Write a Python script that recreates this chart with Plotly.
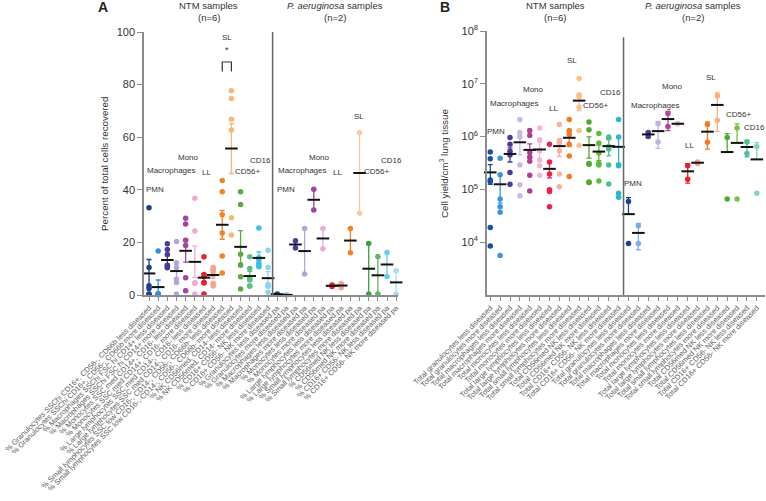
import plotly.graph_objects as go

W, H = 766, 501

# ---------------- DATA ----------------
A_labels = [
    "% Granulocytes SSChi CD16+, CD56-, CD66b less diseased",
    "% Granulocytes SSChi CD16+, CD56-, CD66b more diseased",
    "% Macrophages SSChi FSC hi CD14+ less diseased",
    "% Macrophages SSChi FSC hi CD14+ more diseased",
    "% Monocytes SSC med CD14+, CD16- less diseased",
    "% Monocytes SSC med CD14+, CD16- more diseased",
    "% Large lymphocytes SSC med CD14-, CD16- less diseased",
    "% Large lymphocytes SSC med CD14-, CD16- more diseased",
    "% Small lymphocytes SSC low CD16-, CD14-, CD56-, CD66b- less diseased",
    "% Small lymphocytes SSC low CD16-, CD14-, CD56-, CD66b- more diseased",
    "% NK CD56med, CD14- less diseased",
    "% NK CD56med, CD14- more diseased",
    "% CD16+ CD56- NK less diseased",
    "% CD16+ CD56- NK more diseased",
    "% Granulocytes less diseased pa",
    "% Granulocytes more diseased pa",
    "% Macrophages less diseased pa",
    "% Macrophages more diseased pa",
    "% Monocytes less diseased pa",
    "% Monocytes more diseased pa",
    "% Large lymphocytes less diseased pa",
    "% Large lymphocytes more diseased pa",
    "% Small lymphocytes less diseased pa",
    "% Small lymphocytes more diseased pa",
    "% CD56med NK less diseased pa",
    "% CD56med NK more diseased pa",
    "% CD16+ CD56- NK less diseased pa",
    "% CD16+ CD56- NK more diseased pa",
]

B_labels = [
    "Total granulocytes less diseased",
    "Total granulocytes more diseased",
    "Total macrophages less diseased",
    "Total macrophages more diseased",
    "Total monocytes less diseased",
    "Total monocytes more diseased",
    "Total large lymphocytes less diseased",
    "Total large lymphocytes more diseased",
    "Total small lymphocytes less diseased",
    "Total small lymphocytes more diseased",
    "Total CD56med NK less diseased",
    "Total CD56med NK more diseased",
    "Total CD16+ CD56- NK less diseased",
    "Total CD16+ CD56- NK more diseased",
] * 2

# Panel A: percent of total cells recovered (individual samples)
A_values = [
    [33.2, 10.5, 3.5, 2.5, 0.4, 0.3],
    [16.7, 0.5, 0.4, 0.3, 0.2, 0.1],
    [19.5, 17.3, 15.4, 11.3, 10.8, 10.4],
    [20.3, 12.3, 10.5, 6.0, 4.8, 0.4],
    [29.2, 27.0, 20.8, 18.8, 6.6, 1.6],
    [36.8, 24.3, 4.7, 4.5, 4.5, 0.4],
    [14.5, 7.8, 7.0, 4.8, 4.6, 0.4],
    [10.5, 9.8, 9.0, 7.6, 4.4, 3.4],
    [43.5, 39.3, 30.5, 23.6, 14.8, 8.4],
    [77.7, 74.7, 66.8, 62.7, 29.4, 22.8],
    [39.3, 34.4, 15.5, 11.3, 6.9, 2.3],
    [14.5, 10.1, 6.3, 5.7, 3.4, 3.4],
    [25.5, 14.2, 13.5, 12.2, 11.3, 10.7],
    [17.0, 10.5, 4.0, 3.4, 3.4, 1.0],
    [0.4, 0.2],
    [0.1, 0.0],
    [20.6, 17.9],
    [25.3, 8.0],
    [40.2, 32.3],
    [25.3, 17.6],
    [3.2, 3.8],
    [4.4, 2.8],
    [25.3, 16.1],
    [61.7, 31.1],
    [19.6, 0.4],
    [14.6, 0.4],
    [16.2, 7.0],
    [9.2, 0.4],
]
A_means = [8.2, 3.0, 13.3, 9.1, 16.8, 12.6, 6.6, 7.6, 26.7, 55.7, 18.3, 7.2, 14.1, 6.4,
           0.3, 0.05, 19.2, 16.7, 36.2, 21.5, 3.5, 3.6, 20.7, 46.4, 10.0, 7.5, 11.6, 4.8]
A_err = [5.3, 2.7, 1.6, 2.8, 4.3, 6.0, 1.5, 1.3, 5.5, 9.5, 6.2, 1.8, 2.3, 2.5,
         0.1, 0.05, 1.4, 8.65, 3.9, 3.85, 0.3, 0.8, 4.6, 15.3, 9.6, 7.1, 4.6, 4.4]

# Panel B: cell yield per cm3 lung tissue
B_values = [
    [5.1e5, 3.8e5, 1.5e5, 1.4e5, 1.9e4, 8.5e3],
    [3.9e5, 1.9e5, 6.6e4, 4.7e4, 3.7e4, 5.6e3],
    [9.6e5, 7.2e5, 5.3e5, 4.5e5, 2.1e5, 1.25e5],
    [2.1e6, 1.2e6, 9.8e5, 2.9e5, 1.23e5, 7.6e4],
    [1.3e6, 1.05e6, 5.0e5, 4.1e5, 3.4e5, 1.85e5, 9.3e4],
    [1.45e6, 8.7e5, 5.4e5, 3.6e5, 2.8e5, 1.85e5],
    [7.2e5, 3.3e5, 1.95e5, 9.8e4, 9.1e4, 4.7e4],
    [1.7e6, 8.3e5, 7.6e5, 5.4e5, 1.95e5, 1.12e5],
    [2.1e6, 1.3e6, 1.1e6, 7.2e5, 4.3e5, 1.75e5],
    [1.26e7, 6.2e6, 5.7e6, 3.6e6, 1.3e6, 6.8e5],
    [1.9e6, 1.35e6, 3.1e5, 3.0e5, 1.38e5, 1.35e5],
    [1.15e6, 7.6e5, 4.9e5, 3.1e5, 2.9e5, 1.45e5],
    [9.8e5, 9.4e5, 6.5e5, 5.8e5, 2.9e5, 1.26e5],
    [2.1e6, 9.8e5, 2.9e5, 2.8e5, 8.5e4, 7.1e4],
    [5.9e4, 9.5e3],
    [2.05e4, 9.5e3],
    [1.2e6, 1.0e6],
    [1.75e6, 7.9e5],
    [2.75e6, 1.55e6],
    [1.75e6, 1.75e6],
    [2.8e5, 1.55e5],
    [3.1e5, 3.3e5],
    [1.7e6, 7.8e5],
    [5.9e6, 2.05e6],
    [9.6e5, 6.6e4],
    [1.45e6, 6.6e4],
    [7.9e5, 4.8e5],
    [6.5e5, 8.5e4],
]
B_means = [2.1e5, 1.25e5, 4.7e5, 7.8e5, 5.6e5, 5.7e5, 2.45e5, 6.6e5, 9.5e5, 4.8e6, 6.9e5, 5.2e5, 6.6e5, 6.4e5,
           3.4e4, 1.5e4, 1.1e6, 1.27e6, 2.15e6, 1.75e6, 2.2e5, 3.2e5, 1.24e6, 3.98e6, 5.1e5, 7.6e5, 6.35e5, 3.7e5]
B_err_up = [8.5e4, 7e4, 1.4e5, 3.3e5, 1.7e5, 2.2e5, 8e4, 2.4e5, 3e5, 1.7e6, 3e5, 1.7e5, 2.3e5, 3.3e5,
            3.6e4, 7.8e3, 1.4e5, 6.7e5, 8.5e5, 0, 8.8e4, 1.4e4, 6.6e5, 2.72e6, 6.3e5, 9.8e5, 2.2e5, 4e5]
B_err_down = [8.5e4, 7e4, 1.4e5, 3.3e5, 1.7e5, 2.2e5, 8e4, 2.4e5, 3e5, 1.7e6, 3e5, 1.7e5, 2.3e5, 3.3e5,
              0, 7.8e3, 1.4e5, 6.7e5, 8.5e5, 0, 8.8e4, 1.4e4, 6.6e5, 2.72e6, 0, 0, 2.2e5, 0]

A_colors = ["#1d3f95", "#2f8fdb", "#4b3b98", "#b7a3da", "#a2449c", "#eeaad4", "#e8202d",
            "#f4a58f", "#f5821f", "#f8b777", "#5aa847", "#5cbf86", "#3dbfe0", "#8dd3f0",
            "#1d3f95", "#a9c8ee", "#4b3b98", "#b7a3da", "#a2449c", "#eeaad4", "#e8202d",
            "#f4a58f", "#f5821f", "#f9c99b", "#3f9e44", "#5cb85c", "#5ed0e8", "#a6def3"]
B_colors = ["#1d4ea3", "#3d94dd", "#4b3b98", "#c8b8e2", "#b03f8f", "#f3b6d8", "#ec1f4b",
            "#f6b1a6", "#f47a20", "#f9c08a", "#4aac2f", "#5dba3c", "#4cc18f", "#2bb6c9",
            "#1d3f95", "#7eaee6", "#4b3b98", "#c0b2e0", "#b0449c", "#f1b3dc", "#e8202d",
            "#f6a08a", "#f47a20", "#f9b07a", "#4aac2f", "#7cc242", "#4cc18f", "#7fd3c0"]

group_names = ["PMN", "Macrophages", "Mono", "LL", "SL", "CD56+", "CD16"]

# ---------------- FIGURE ----------------
fig = go.Figure()


def add_panel(xa, ya, values, means, eup, edn, colors):
    n = len(values)
    for i in range(n):
        fig.add_trace(go.Scatter(
            x=[i], y=[means[i]], mode="markers",
            marker=dict(size=2, color="rgba(0,0,0,0)"),
            error_y=dict(type="data", symmetric=False, array=[eup[i]], arrayminus=[edn[i]],
                         color=colors[i], thickness=1.3, width=2.5),
            xaxis=xa, yaxis=ya, showlegend=False, hoverinfo="skip", cliponaxis=False))
    for i in range(n):
        fig.add_trace(go.Scatter(
            x=[i] * len(values[i]), y=values[i], mode="markers",
            marker=dict(size=5.5, color=colors[i]),
            xaxis=xa, yaxis=ya, showlegend=False, cliponaxis=False))
    fig.add_trace(go.Scatter(
        x=list(range(n)), y=means, mode="markers",
        marker=dict(symbol="line-ew", size=9, line=dict(width=2, color="#111111")),
        xaxis=xa, yaxis=ya, showlegend=False, cliponaxis=False))


add_panel("x", "y", A_values, A_means, A_err, A_err, A_colors)
add_panel("x2", "y2", B_values, B_means, B_err_up, B_err_down, B_colors)

SANS = "Liberation Sans, Arial"
AXC = "#8c8c8c"
tickfontx = dict(family=SANS, size=7.5, color="#5e5e5e")
tickfonty = dict(family=SANS, size=11, color="#333333")

fig.update_layout(
    width=W, height=H,
    margin=dict(l=0, r=0, t=0, b=0, autoexpand=False),
    paper_bgcolor="white", plot_bgcolor="white",
    font=dict(family=SANS, color="#333333"),
    xaxis=dict(domain=[144 / W, 398 / W], range=[-0.55, 27.2], anchor="y",
               tickmode="array", tickvals=list(range(28)), ticktext=A_labels,
               tickangle=-45, tickfont=tickfontx, ticks="outside", ticklen=4,
               tickcolor=AXC, showline=True, linecolor=AXC, linewidth=1.5,
               showgrid=False, zeroline=False, automargin=False),
    yaxis=dict(domain=[1 - 295 / H, 1 - 32 / H], range=[0, 100], anchor="x",
               tickmode="array", tickvals=[0, 20, 40, 60, 80, 100],
               tickfont=tickfonty, ticks="outside", ticklen=5, tickcolor=AXC,
               showline=True, linecolor=AXC, linewidth=1.5,
               showgrid=False, zeroline=False, automargin=False),
    xaxis2=dict(domain=[487 / W, 765 / W], range=[-0.33, 27.83], anchor="y2",
                tickmode="array", tickvals=list(range(28)), ticktext=B_labels,
                tickangle=-45, tickfont=tickfontx, ticks="outside", ticklen=4,
                tickcolor=AXC, showline=True, linecolor=AXC, linewidth=1.5,
                showgrid=False, zeroline=False, automargin=False),
    yaxis2=dict(domain=[1 - 295 / H, 1 - 31 / H], type="log", range=[3, 8], anchor="x2",
                tickmode="array", tickvals=[1e4, 1e5, 1e6, 1e7, 1e8],
                ticktext=["10<sup>4</sup>", "10<sup>5</sup>", "10<sup>6</sup>",
                          "10<sup>7</sup>", "10<sup>8</sup>"],
                tickfont=tickfonty, ticks="outside", ticklen=5, tickcolor=AXC,
                showline=True, linecolor=AXC, linewidth=1.5,
                showgrid=False, zeroline=False, automargin=False),
)

# dividers between NTM and P. aeruginosa groups
fig.add_shape(type="line", xref="x", yref="y", x0=13.5, x1=13.5, y0=0, y1=100,
              line=dict(color="#666666", width=1.5))
fig.add_shape(type="line", xref="x2", yref="y2", x0=13.5, x1=13.5, y0=1e3, y1=10 ** 7.88,
              line=dict(color="#666666", width=1.5))

# significance bracket (panel A, SL)
fig.add_shape(type="path", xref="x", yref="y", path="M 8,85 L 8,88.6 L 9,88.6 L 9,85",
              line=dict(color="#333333", width=1.2))
fig.add_annotation(x=8.5, y=93, xref="x", yref="y", text="*", showarrow=False,
                   font=dict(family=SANS, size=9, color="#333333"))

lab_font = dict(family=SANS, size=8, color="#333333")

# group label positions (category units, axis values)
A_lab_x = [0.6, 2.4, 4.33, 6.3, 8.54, 10.73, 12.16, 14.95, 16.7, 18.6, 20.6, 22.9, 24.8, 26.5]
A_lab_y = [40.3, 47.5, 52.1, 46.4, 98.1, 47.1, 51.0, 40.3, 47.5, 52.1, 46.4, 67.7, 47.1, 51.0]
B_lab_x = [0.63, 2.45, 4.43, 6.4, 8.33, 10.66, 12.18, 14.41, 16.64, 18.41, 20.18, 22.36, 25.1, 26.72]
B_lab_y = [6.09, 6.62, 6.90, 6.54, 7.45, 6.58, 6.83, 5.12, 6.58, 6.94, 5.84, 7.11, 6.41, 6.18]

for k in range(14):
    name = group_names[k % 7]
    fig.add_annotation(x=A_lab_x[k], y=A_lab_y[k], xref="x", yref="y", text=name,
                       showarrow=False, font=lab_font, xanchor="center", yanchor="middle")
    fig.add_annotation(x=B_lab_x[k], y=B_lab_y[k], xref="x2", yref="y2", text=name,
                       showarrow=False, font=lab_font, xanchor="center", yanchor="middle")

# headers
hfont = dict(family=SANS, size=9.5, color="#333333")
for (cx, t1, t2) in [(209, "NTM samples", "(n=6)"), (335, "<i>P. aeruginosa</i> samples", "(n=2)"),
                     (555, "NTM samples", "(n=6)"), (693, "<i>P. aeruginosa</i> samples", "(n=2)")]:
    fig.add_annotation(x=cx / W, y=1 - 5.5 / H, xref="paper", yref="paper", text=t1,
                       showarrow=False, font=hfont, xanchor="center", yanchor="middle")
    fig.add_annotation(x=cx / W, y=1 - 18 / H, xref="paper", yref="paper", text=t2,
                       showarrow=False, font=hfont, xanchor="center", yanchor="middle")

for (cx, t) in [(103, "A"), (445, "B")]:
    fig.add_annotation(x=cx / W, y=1 - 7 / H, xref="paper", yref="paper", text="<b>%s</b>" % t,
                       showarrow=False, font=dict(family=SANS, size=14, color="#222222"),
                       xanchor="center", yanchor="middle")

# y-axis titles
tfont = dict(family=SANS, size=9.8, color="#333333")
fig.add_annotation(x=104 / W, y=1 - 164 / H, xref="paper", yref="paper",
                   text="Percent of total cells recovered", textangle=-90, showarrow=False,
                   font=tfont, xanchor="center", yanchor="middle")
fig.add_annotation(x=444 / W, y=1 - 164 / H, xref="paper", yref="paper",
                   text="Cell yield/cm<sup>3</sup> lung tissue", textangle=-90, showarrow=False,
                   font=tfont, xanchor="center", yanchor="middle")

fig.write_html("out.html", config={"displayModeBar": False},
               post_script="document.body.style.margin='0';")
